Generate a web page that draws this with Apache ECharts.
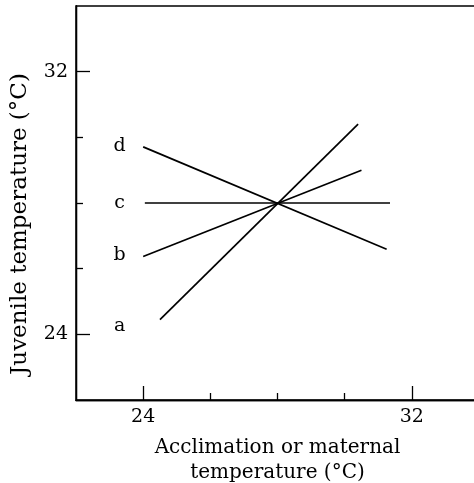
<!DOCTYPE html>
<html>
<head>
<meta charset="utf-8">
<title>ECharts</title>
<script src="https://cdn.jsdelivr.net/npm/echarts@6/dist/echarts.min.js"></script>
</head>
<body style="margin:0;background:#fff">
<div id="main" style="width:474px;height:483px;"></div>
<script type="text/javascript">
// lines: start / end points
var lineNames = ['a', 'b', 'c', 'd'];
var xStart = [24.5, 24.0, 24.05, 24.0];
var yStart = [24.45, 26.37, 28.0, 29.71];
var xEnd = [30.4, 30.5, 31.35, 31.25];
var yEnd = [30.4, 29.0, 28.0, 26.59];

// where the letters stand
var labelX = [23.3, 23.3, 23.3, 23.3];
var labelY = [24.25, 26.4, 28.0, 29.72];

// ticks
var xMajorTicks = [24, 32];
var xMinorTicks = [26, 28, 30];
var yMajorTicks = [24, 32];
var yMinorTicks = [26, 28, 30];

var font = 'DejaVu Serif';
var myChart = echarts.init(document.getElementById('main'));

var series = [];
for (var i = 0; i < lineNames.length; i++) {
  series.push({
    name: lineNames[i],
    type: 'line',
    data: [[xStart[i], yStart[i]], [xEnd[i], yEnd[i]]],
    symbol: 'none',
    lineStyle: { color: '#000', width: 1.7 },
    silent: true
  });
}
var labelData = [];
for (var j = 0; j < lineNames.length; j++) {
  labelData.push({ name: lineNames[j], value: [labelX[j], labelY[j]] });
}
series.push({
  type: 'scatter',
  data: labelData,
  symbolSize: 0,
  itemStyle: { opacity: 1 },
  label: {
    show: true,
    position: 'inside',
    formatter: '{b}',
    color: '#000',
    fontFamily: font,
    fontSize: 19
  }
});

function axisBase(type, ticks, len, showLabel) {
  return {
    type: 'value',
    min: 22,
    max: 34,
    position: type === 'x' ? 'bottom' : 'left',
    splitLine: { show: false },
    axisLine: { lineStyle: { color: '#000', width: 1.3 } },
    axisTick: {
      inside: true,
      length: len,
      customValues: ticks,
      lineStyle: { color: '#000', width: 1.3 }
    },
    axisLabel: {
      show: showLabel,
      customValues: ticks,
      margin: 8,
      color: '#000',
      fontFamily: font,
      fontSize: 19
    }
  };
}

var xMain = axisBase('x', xMajorTicks, 14, true);
xMain.name = 'Acclimation or maternal\ntemperature (°C)';
xMain.nameLocation = 'middle';
xMain.nameGap = 35;
xMain.nameTextStyle = { color: '#000', fontFamily: font, fontSize: 20, lineHeight: 25 };
var xMinor = axisBase('x', xMinorTicks, 7, false);
var yMain = axisBase('y', yMajorTicks, 14, true);
var yMinor = axisBase('y', yMinorTicks, 7, false);

var option = {
  backgroundColor: '#fff',
  animation: false,
  grid: {
    left: 76, right: -5, top: 6, bottom: 83,
    outerBoundsMode: 'none',
    show: true, borderColor: '#000', borderWidth: 1.5
  },
  xAxis: [xMain, xMinor],
  yAxis: [yMain, yMinor],
  graphic: [{
    type: 'text',
    x: 20,
    y: 224,
    rotation: Math.PI / 2,
    style: {
      text: 'Juvenile temperature (°C)',
      fill: '#000',
      font: '23px "DejaVu Serif"',
      textAlign: 'center',
      textVerticalAlign: 'middle'
    }
  }],
  series: series
};

myChart.setOption(option);
</script>
</body>
</html>
